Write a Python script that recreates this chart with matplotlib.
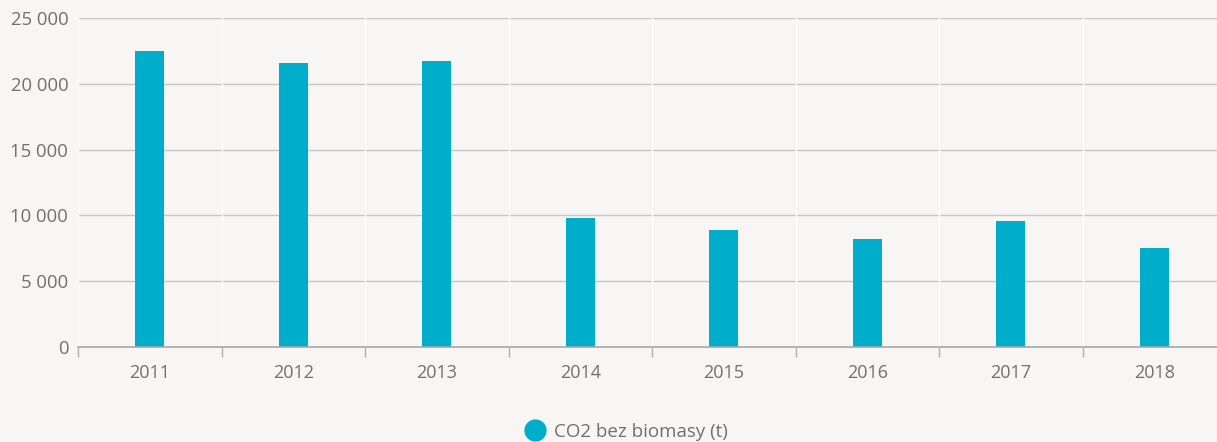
import matplotlib
matplotlib.use("Agg")
from matplotlib import pyplot as plt
from matplotlib.ticker import FuncFormatter, FixedLocator
from matplotlib.lines import Line2D

years = ["2011", "2012", "2013", "2014", "2015", "2016", "2017", "2018"]
co2 = [22500, 21600, 21750, 9800, 8900, 8200, 9580, 7520]
y_ticks = [0, 5000, 10000, 15000, 20000, 25000]

bg = "#f7f6f4"
bar_color = "#00aecb"
text_color = "#707070"

plt.rcParams["font.family"] = ["Open Sans", "DejaVu Sans"]

fig = plt.figure(figsize=(12.17, 4.42), dpi=100, facecolor=bg)
ax = fig.add_axes([78 / 1217, 1 - 347 / 442, 1148 / 1217, 329 / 442])
ax.set_facecolor(bg)

x = list(range(len(years)))
ax.bar(x, co2, width=0.2, color=bar_color, zorder=3)

ax.set_xlim(-0.5, len(years) - 0.5)
ax.set_ylim(0, 25000)
ax.set_yticks(y_ticks)
ax.yaxis.set_major_formatter(FuncFormatter(lambda v, p: f"{int(v):,}".replace(",", " ")))
ax.grid(axis="y", color="#c6c6c6", linewidth=1, zorder=1)

# category boundaries: faint white lines + ticks on the axis
bounds = [i - 0.5 for i in range(len(years) + 1)]
for b in bounds:
    ax.axvline(b, color="white", linewidth=1, zorder=2)
ax.xaxis.set_major_locator(FixedLocator(bounds))
ax.xaxis.set_major_formatter(FuncFormatter(lambda v, p: ""))
ax.xaxis.set_minor_locator(FixedLocator(x))
ax.set_xticklabels(years, minor=True)
ax.tick_params(axis="x", which="major", length=7, color="#b0b0b0", width=1)
ax.tick_params(axis="x", which="minor", length=0, pad=12, labelsize=13, labelcolor=text_color)
ax.tick_params(axis="y", length=0, pad=7, labelsize=13.3, labelcolor=text_color)

for s in ["top", "right", "left"]:
    ax.spines[s].set_visible(False)
ax.spines["bottom"].set_color("#a8a8a8")
ax.spines["bottom"].set_linewidth(1.2)
ax.spines["bottom"].set_zorder(4)

handle = Line2D([], [], marker="o", linestyle="none", markersize=15,
                markerfacecolor=bar_color, markeredgecolor=bar_color)
fig.legend([handle], ["CO2 bez biomasy (t)"], loc="center", bbox_to_anchor=(622 / 1217, 1 - 432 / 442),
           frameon=False, fontsize=13.5, labelcolor=text_color, handletextpad=0.0)

fig.savefig("out.png", dpi=100, facecolor=bg)
